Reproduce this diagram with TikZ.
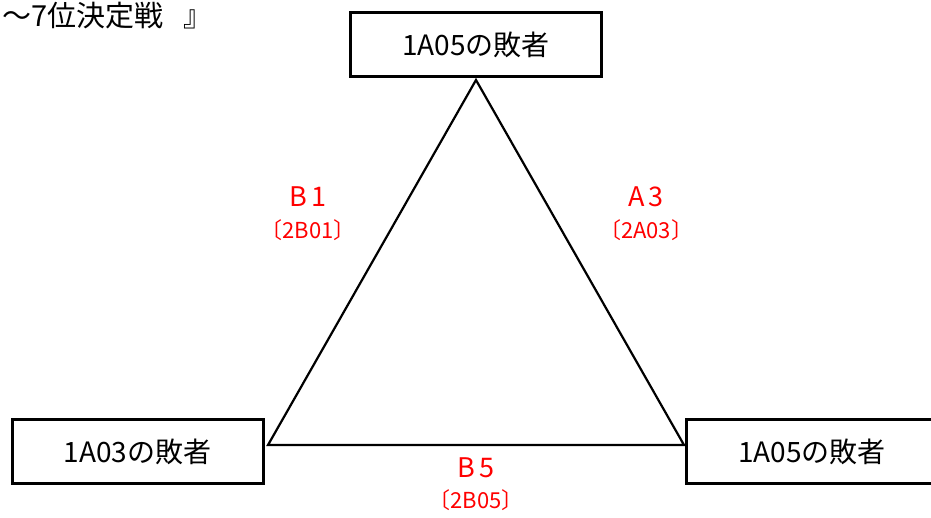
\documentclass[tikz,border=0pt]{standalone}
\usepackage{fontspec}
\setmainfont{Noto Sans CJK JP}
\usetikzlibrary{positioning}

\begin{document}
\begin{tikzpicture}[x=1pt,y=-1pt,
    loser/.style={draw, line width=3pt, minimum width=251pt, minimum height=64pt, inner sep=0pt, font=\fontsize{28}{30}\selectfont},
    game/.style={text=red, inner sep=0pt, font=\fontsize{27}{29}\selectfont},
    gameno/.style={text=red, inner sep=0pt, font=\fontsize{22}{24}\selectfont}]
      \useasboundingbox (0,0) rectangle (931,518);
      \node[name=title, anchor=base west, inner sep=0pt, font=\fontsize{29}{31}\selectfont] at (2,27){～7位決定戦\hspace{20pt}』};
      \node[name=top, loser] at (476,45){1A05の敗者};
      \node[name=left, loser] at (137.5,451.5){1A03の敗者};
      \node[name=right, loser] at (812,451.5){1A05の敗者};
      \coordinate (apex) at (476,80);
      \coordinate (lc) at (268,445);
      \coordinate (rc) at (684,445);
      \draw[line width=2.2pt, line join=miter] (apex) -- (lc) -- (rc) -- cycle;
      \node[name=b1, game] at (308,197){B\,1};
      \node[name=b1no, gameno, below=12pt of b1.south] {〔2B01〕};
      \node[name=a3, game] at (646,197){A\,3};
      \node[name=a3no, gameno, below=12pt of a3.south] {〔2A03〕};
      \node[name=b5, game] at (476,468){B\,5};
      \node[name=b5no, gameno, below=11pt of b5.south] {〔2B05〕};
    \end{tikzpicture}
\end{document}
